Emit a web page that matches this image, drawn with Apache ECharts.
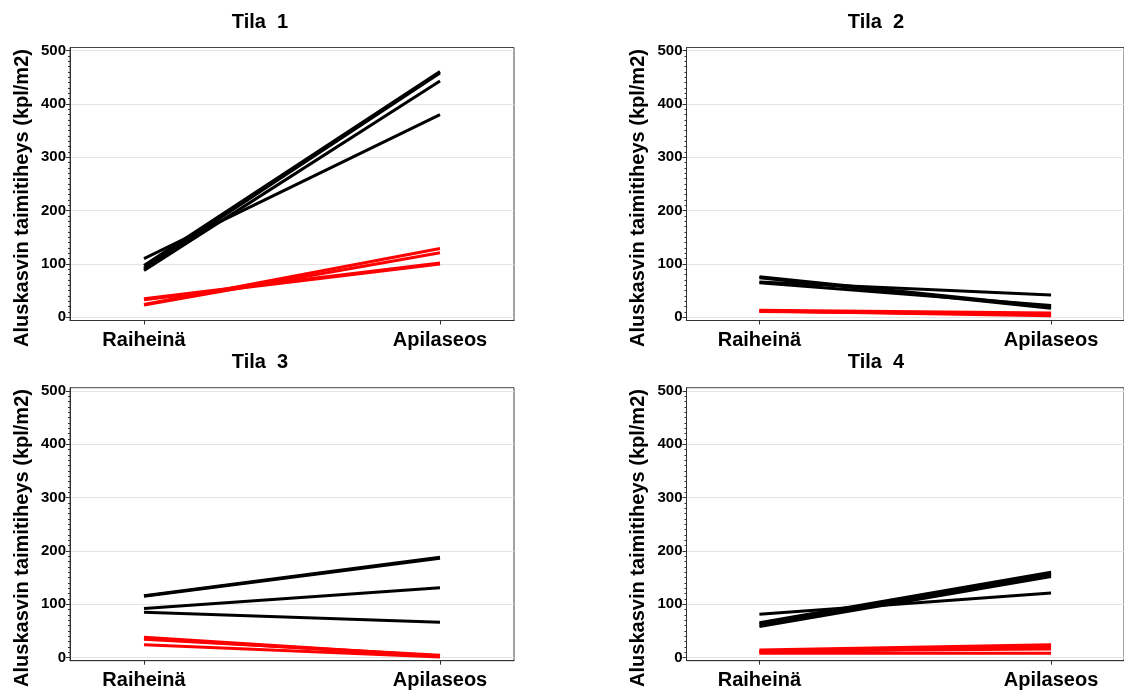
<!DOCTYPE html>
<html>
<head>
<meta charset="utf-8">
<title>Aluskasvin taimitiheys</title>
<script src="https://cdn.jsdelivr.net/npm/echarts@6.0.0/dist/echarts.min.js"></script>
<style>
  html, body { margin: 0; padding: 0; background: #ffffff; }
  #chart { width: 1124px; height: 691px; }
</style>
</head>
<body>
<div id="chart"></div>
<script>
// Categories on the x axis (positions 1 and 2)
const categories = ['Raiheinä', 'Apilaseos'];
const panelTitles = ['Tila  1', 'Tila  2', 'Tila  3', 'Tila  4'];
const yAxisName = 'Aluskasvin taimitiheys (kpl/m2)';
const yTickValues = [0, 100, 200, 300, 400, 500];

// Each row is one plot: [Raiheinä, Apilaseos]
const tila1Black = [[110, 380], [97, 461], [92, 458], [88, 443]];
const tila1Red   = [[35, 102], [33, 100], [24, 129], [23, 121]];
const tila2Black = [[76, 20], [74, 17], [66, 42], [65, 22]];
const tila2Red   = [[13, 8], [12, 5], [12, 3], [11, 6]];
const tila3Black = [[116, 188], [115, 186], [92, 131], [85, 66]];
const tila3Red   = [[38, 3], [36, 2], [34, 4], [24, 1]];
const tila4Black = [[81, 121], [65, 160], [62, 156], [58, 152]];
const tila4Red   = [[14, 24], [12, 16], [8, 8], [10, 20]];

const blackGroups = [tila1Black, tila2Black, tila3Black, tila4Black];
const redGroups = [tila1Red, tila2Red, tila3Red, tila4Red];

// Minor ticks every 10 units between the labelled ticks
const minorTickValues = [];
for (let v = 0; v <= 500; v += 10) {
  if (v % 100 !== 0) minorTickValues.push(v);
}

const FONT = '"Liberation Sans", Arial, Helvetica, sans-serif';
const AXIS_COLOR = '#333333';

// Panel frames (pixel layout)
const panels = [
  { left: 70,    top: 47.5,  titleX: 260, titleY: 22,  nameX: 22,    nameY: 198 },
  { left: 686.5, top: 47.5,  titleX: 876, titleY: 22,  nameX: 638.5, nameY: 198 },
  { left: 70,    top: 387.7, titleX: 260, titleY: 362, nameX: 22,    nameY: 538 },
  { left: 686.5, top: 387.7, titleX: 876, titleY: 362, nameX: 638.5, nameY: 538 }
];
const PANEL_W = 444;
const PANEL_H = 273;

const grids = [];
const xAxes = [];
const yAxes = [];
const series = [];
const graphics = [];

panels.forEach((p, i) => {
  grids.push({
    left: p.left, top: p.top, width: PANEL_W, height: PANEL_H,
    show: true, borderColor: '#444444', borderWidth: 1, backgroundColor: 'transparent'
  });

  xAxes.push({
    type: 'value', gridIndex: i, min: 0.75, max: 2.25,
    axisLine: { show: true, onZero: false, lineStyle: { color: AXIS_COLOR, width: 1 } },
    axisTick: { show: true, customValues: [1, 2], length: 4, lineStyle: { color: AXIS_COLOR } },
    axisLabel: {
      customValues: [1, 2], margin: 10,
      formatter: v => categories[Math.round(v) - 1],
      fontFamily: FONT, fontWeight: 'bold', fontSize: 20, color: '#000'
    },
    splitLine: { show: false }
  });

  // Main value axis with labels and grid lines
  yAxes.push({
    type: 'value', gridIndex: i, min: -6, max: 506,
    axisLine: { show: true, onZero: false, lineStyle: { color: AXIS_COLOR, width: 1 } },
    axisTick: { show: true, customValues: yTickValues, length: 4, lineStyle: { color: AXIS_COLOR } },
    axisLabel: {
      customValues: yTickValues, margin: 4,
      fontFamily: FONT, fontWeight: 'bold', fontSize: 15, color: '#000'
    },
    splitLine: { show: true, lineStyle: { color: '#e4e4e4', width: 1 } }
  });

  // Companion axis that only carries the minor ticks
  yAxes.push({
    type: 'value', gridIndex: i, min: -6, max: 506, position: 'left',
    axisLine: { show: false, onZero: false },
    axisTick: { show: true, customValues: minorTickValues, length: 2, lineStyle: { color: AXIS_COLOR } },
    axisLabel: { show: false },
    splitLine: { show: false }
  });

  const addLines = (group, color) => {
    group.forEach(pair => {
      series.push({
        type: 'line', xAxisIndex: i, yAxisIndex: i * 2,
        data: [[1, pair[0]], [2, pair[1]]],
        symbol: 'none', silent: true,
        lineStyle: { color: color, width: 3, cap: 'butt' },
        z: color === '#ff0000' ? 3 : 2
      });
    });
  };
  addLines(blackGroups[i], '#000000');
  addLines(redGroups[i], '#ff0000');

  graphics.push({
    type: 'text', x: p.titleX, y: p.titleY, silent: true,
    style: {
      text: panelTitles[i], fill: '#000', align: 'center', verticalAlign: 'middle',
      font: 'bold 20px ' + FONT
    }
  });
  graphics.push({
    type: 'text', x: p.nameX, y: p.nameY, rotation: Math.PI / 2, silent: true,
    style: {
      text: yAxisName, fill: '#000', align: 'center', verticalAlign: 'middle',
      font: 'bold 20px ' + FONT
    }
  });
});

const chart = echarts.init(document.getElementById('chart'), null, { renderer: 'canvas' });
chart.setOption({
  animation: false,
  backgroundColor: '#ffffff',
  grid: grids,
  xAxis: xAxes,
  yAxis: yAxes,
  series: series,
  graphic: graphics
});
</script>
</body>
</html>
